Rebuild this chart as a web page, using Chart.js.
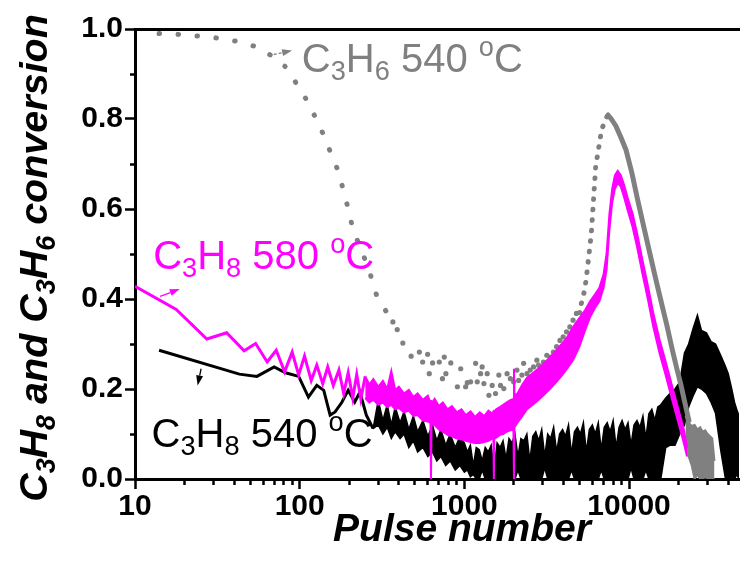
<!DOCTYPE html>
<html>
<head>
<meta charset="utf-8">
<script src="https://cdn.jsdelivr.net/npm/chart.js@4.4.1/dist/chart.umd.min.js"></script>
<style>
  html, body { margin: 0; padding: 0; background: #fff; }
  #wrap { width: 743px; height: 565px; }
</style>
</head>
<body>
<div id="wrap"><canvas id="chart" width="743" height="565"></canvas></div>
<script>
// axis ticks
const xMajorTicks = [10, 100, 1000, 10000];
const yMajorTicks = [0, 0.2, 0.4, 0.6, 0.8, 1.0];
const yTickLabels = ["0.0", "0.2", "0.4", "0.6", "0.8", "1.0"];
const X_MIN = 10;
const X_MAX = 46500;

// C3H8 580 oC : first pulses, then the noisy band (upper / lower edge)
const m580HeadX = [10, 17.8, 27.3, 36, 46, 54, 63.5, 72, 81, 90, 98.6, 107, 117.5, 127, 138, 148, 160, 173, 185, 197, 210, 222, 235, 250];
const m580HeadY = [0.428, 0.377, 0.311, 0.325, 0.285, 0.301, 0.26, 0.286, 0.238, 0.282, 0.231, 0.273, 0.219, 0.253, 0.212, 0.249, 0.208, 0.242, 0.19, 0.236, 0.18, 0.232, 0.178, 0.228];
const m580BandX = [250, 265, 280, 300, 320, 340, 360, 380, 400, 430,
  460, 490, 520, 560, 600, 622, 627, 632, 660, 700,
  740, 790, 840, 900, 960, 1020, 1090, 1160, 1240, 1320,
  1400, 1480, 1500, 1510, 1520, 1560, 1640, 1720, 1800, 1900,
  1985, 2000, 2015, 2100, 2250, 2400, 2600, 2800, 3000, 3300,
  3600, 3900, 4200, 4580, 5000, 5400, 5800, 6200, 6600, 7000,
  7300, 7600, 7900, 8200, 8530, 8900, 9300, 9800, 10500, 11200,
  12000, 13000, 14000, 15300, 16700, 18300, 20100, 21500, 22500];
const m580Upper = [0.228, 0.21, 0.222, 0.205, 0.218, 0.2, 0.24, 0.198, 0.205, 0.19,
  0.198, 0.182, 0.19, 0.176, 0.185, 0.17, 0.175, 0.168, 0.178, 0.162,
  0.17, 0.155, 0.162, 0.148, 0.155, 0.142, 0.15, 0.138, 0.148, 0.14,
  0.152, 0.145, 0.15, 0.148, 0.15, 0.155, 0.16, 0.165, 0.17, 0.175,
  0.178, 0.245, 0.185, 0.19, 0.21, 0.225, 0.235, 0.245, 0.255, 0.27,
  0.285, 0.3, 0.315, 0.338, 0.358, 0.375, 0.395, 0.41, 0.425, 0.455,
  0.5, 0.59, 0.645, 0.675, 0.685, 0.675, 0.655, 0.625, 0.59, 0.545,
  0.49, 0.43, 0.37, 0.31, 0.26, 0.205, 0.15, 0.11, 0.07];
const m580Lower = [0.18, 0.17, 0.176, 0.165, 0.17, 0.16, 0.165, 0.155, 0.158, 0.148,
  0.152, 0.14, 0.142, 0.13, 0.128, 0.125, 0.0, 0.122, 0.12, 0.11,
  0.105, 0.098, 0.095, 0.09, 0.088, 0.085, 0.082, 0.08, 0.08, 0.082,
  0.085, 0.09, 0.09, 0.0, 0.09, 0.092, 0.098, 0.1, 0.105, 0.108,
  0.11, 0.0, 0.115, 0.125, 0.14, 0.155, 0.165, 0.175, 0.185, 0.2,
  0.215, 0.23, 0.245, 0.265, 0.295, 0.33, 0.36, 0.38, 0.395, 0.425,
  0.465, 0.555, 0.615, 0.645, 0.658, 0.65, 0.628, 0.598, 0.56, 0.515,
  0.46, 0.4, 0.34, 0.28, 0.23, 0.175, 0.12, 0.08, 0.05];

// C3H6 540 oC : early decay, scattered minimum, conversion peak, tail
const c3h6EarlyX = [14, 18.4, 24.3, 31.6, 41, 54, 68, 82, 95.5, 110.7,
  124, 140, 154.6, 172, 184, 197, 211, 237, 267, 292, 340];
const c3h6EarlyY = [0.99, 0.988, 0.984, 0.98, 0.973, 0.961, 0.94, 0.916, 0.879, 0.841,
  0.805, 0.764, 0.724, 0.683, 0.642, 0.601, 0.553, 0.509, 0.458, 0.41, 0.368];
const c3h6MidX = [368, 391, 423, 475, 533, 558, 598, 612, 641, 704,
  736, 755, 772, 827, 907, 950, 1018, 1042, 1091, 1170,
  1197, 1254, 1282, 1314, 1376, 1409, 1475, 1545, 1619, 1657,
  1735, 1816, 1902, 1991, 2085, 2134, 2234, 2290, 2400, 2510,
  2630, 2755, 2820, 3020, 3165, 3310, 3470, 3630, 3805, 3980,
  4170, 4370, 4570, 4790, 5010];
const c3h6MidY = [0.349, 0.332, 0.302, 0.273, 0.282, 0.26, 0.277, 0.234, 0.258, 0.26,
  0.223, 0.271, 0.234, 0.258, 0.205, 0.245, 0.205, 0.214, 0.216, 0.257,
  0.216, 0.234, 0.249, 0.212, 0.234, 0.186, 0.208, 0.19, 0.231, 0.208,
  0.201, 0.234, 0.223, 0.216, 0.242, 0.219, 0.231, 0.257, 0.234, 0.242,
  0.249, 0.264, 0.253, 0.26, 0.275, 0.271, 0.282, 0.294, 0.308, 0.316,
  0.327, 0.338, 0.353, 0.368, 0.37];
const c3h6PeakX = [5130, 5375, 5510, 5900, 6270, 6800, 7200, 7450, 7800, 8300,
  8900, 9590, 10400, 11280, 12200, 13240, 14400, 15590, 17000, 18330,
  19500, 20560, 21800, 23080];
const c3h6PeakY = [0.39, 0.42, 0.449, 0.546, 0.694, 0.775, 0.8, 0.809, 0.8, 0.785,
  0.76, 0.731, 0.68, 0.62, 0.565, 0.508, 0.45, 0.397, 0.34, 0.286,
  0.245, 0.212, 0.17, 0.13];
const c3h6TailX = [22000, 23000, 24000, 25000, 26000, 27000, 28000, 29000, 30000, 31000, 32000, 33000];
const c3h6TailUpper = [0.14, 0.125, 0.118, 0.12, 0.11, 0.115, 0.105, 0.108, 0.1, 0.095, 0.09, 0.04];
const c3h6TailLower = [0.09, 0.05, 0.03, 0.0, 0.01, 0.0, 0.0, 0.005, 0.0, 0.0, 0.0, 0.0];

// C3H8 540 oC
const b540HeadX = [14, 43, 55, 70, 82, 98.6, 113, 127, 140, 153, 164, 180, 197, 216, 232, 254, 279];
const b540HeadY = [0.286, 0.233, 0.228, 0.249, 0.236, 0.228, 0.182, 0.208, 0.197, 0.142, 0.149, 0.17, 0.197, 0.171, 0.193, 0.142, 0.112];
const b540BandX = [279, 300, 320, 340, 360, 380, 407, 430, 460, 490,
  520, 560, 600, 640, 680, 720, 770, 820, 880, 940,
  1000, 1043, 1087, 1133, 1181, 1231, 1283, 1338, 1395, 1454,
  1516, 1580, 1647, 1717, 1790, 1866, 1945, 2028, 2114, 2204,
  2297, 2395, 2497, 2603, 2713, 2829, 2949, 3074, 3205, 3341,
  3483, 3631, 3785, 3946, 4113, 4288, 4470, 4660, 4858, 5065,
  5280, 5504, 5738, 5982, 6236, 6501, 6777, 7065, 7365, 7678,
  8004, 8344, 8699, 9069, 9454, 9856, 10275, 10711, 11166, 11641,
  12135, 12651, 13189, 13749, 14333, 14943, 15578, 16700, 17700, 19000,
  20300, 21700, 23000, 24500, 26000, 27500, 29500, 31500, 33500, 36000,
  38500, 40000, 42000, 43700, 45000, 46500];
const b540Upper = [0.112, 0.175, 0.13, 0.165, 0.12, 0.16, 0.125, 0.15, 0.11, 0.14,
  0.105, 0.13, 0.095, 0.12, 0.085, 0.11, 0.075, 0.1, 0.07, 0.095,
  0.08, 0.06, 0.075, 0.03, 0.07, 0.065, 0.04, 0.07, 0.06, 0.075,
  0.02, 0.08, 0.07, 0.085, 0.045, 0.09, 0.08, 0.1, 0.05, 0.09,
  0.085, 0.1, 0.04, 0.095, 0.105, 0.085, 0.11, 0.05, 0.1, 0.09,
  0.115, 0.06, 0.1, 0.11, 0.095, 0.12, 0.055, 0.105, 0.115, 0.1,
  0.125, 0.06, 0.11, 0.12, 0.1, 0.125, 0.065, 0.115, 0.125, 0.105,
  0.13, 0.07, 0.115, 0.13, 0.11, 0.125, 0.075, 0.12, 0.13, 0.115,
  0.14, 0.09, 0.145, 0.155, 0.13, 0.16, 0.165, 0.18, 0.19, 0.2,
  0.215, 0.28, 0.3, 0.335, 0.364, 0.33, 0.325, 0.305, 0.3, 0.275,
  0.25, 0.234, 0.2, 0.17, 0.155, 0.14];
const b540Lower = [0.112, 0.12, 0.1, 0.115, 0.09, 0.105, 0.09, 0.1, 0.07, 0.085,
  0.06, 0.07, 0.05, 0.06, 0.04, 0.05, 0.03, 0.04, 0.02, 0.03,
  0.015, 0.02, 0.005, 0.01, 0.0, 0.0, 0.02, 0.0, 0.0, 0.0,
  0.0, 0.0, 0.0, 0.0, 0.0, 0.0, 0.0, 0.0, 0.02, 0.0,
  0.0, 0.0, 0.0, 0.0, 0.0, 0.0, 0.0, 0.025, 0.0, 0.0,
  0.0, 0.0, 0.0, 0.0, 0.0, 0.0, 0.02, 0.0, 0.0, 0.0,
  0.0, 0.0, 0.0, 0.0, 0.0, 0.0, 0.02, 0.0, 0.0, 0.0,
  0.0, 0.0, 0.0, 0.0, 0.0, 0.0, 0.025, 0.0, 0.0, 0.0,
  0.0, 0.02, 0.0, 0.0, 0.0, 0.0, 0.0, 0.07, 0.075, 0.075,
  0.1, 0.12, 0.16, 0.185, 0.205, 0.2, 0.19, 0.17, 0.146, 0.064,
  0.0, 0.0, 0.005, 0.0, 0.01, 0.0];

const MAGENTA = "#ff00ff";
const GRAY = "#808080";
const BLACK = "#000000";
const FONT = '"Liberation Sans", Arial, Helvetica, sans-serif';

// curve labels (left end of text / baseline in data units)
const notes = [
  { parts: [["C"], ["3", "sub"], ["H"], ["6", "sub"], [" 540 "], ["o", "sup"], ["C"]], x: 103, y: 0.905, color: GRAY },
  { parts: [["C"], ["3", "sub"], ["H"], ["8", "sub"], [" 580 "], ["o", "sup"], ["C"]], x: 12.9, y: 0.466, color: MAGENTA },
  { parts: [["C"], ["3", "sub"], ["H"], ["8", "sub"], [" 540 "], ["o", "sup"], ["C"]], x: 12.6, y: 0.071, color: BLACK },
];
const arrows = [
  { from: [65, 0.941], to: [90, 0.952], color: GRAY, dash: [3, 2] },
  { from: [14.2, 0.406], to: [18.7, 0.422], color: MAGENTA, dash: [] },
  { from: [25.2, 0.245], to: [24.0, 0.208], color: BLACK, dash: [] },
];

const xy = (xs, ys) => xs.map((x, i) => ({ x: x, y: ys[i] }));

// draw text with sub/superscripts, returns the width
const drawRich = (ctx, parts, x, y, size, style, color, measureOnly) => {
  let cx = x;
  ctx.fillStyle = color;
  ctx.textAlign = "left";
  ctx.textBaseline = "alphabetic";
  parts.forEach(([txt, kind]) => {
    const s = kind ? size * 0.68 : size;
    const dy = kind === "sub" ? size * 0.2 : kind === "sup" ? -size * 0.4 : 0;
    ctx.font = style + " " + s + "px " + FONT;
    if (!measureOnly) ctx.fillText(txt, cx, y + dy);
    cx += ctx.measureText(txt).width;
  });
  return cx - x;
};

const drawArrow = (ctx, x0, y0, x1, y1, color, dash) => {
  const head = 10;
  const ang = Math.atan2(y1 - y0, x1 - x0);
  const bx = x1 - head * Math.cos(ang);
  const by = y1 - head * Math.sin(ang);
  ctx.save();
  ctx.strokeStyle = color;
  ctx.fillStyle = color;
  ctx.lineWidth = 1.3;
  ctx.setLineDash(dash);
  ctx.beginPath();
  ctx.moveTo(x0, y0);
  ctx.lineTo(bx, by);
  ctx.stroke();
  ctx.setLineDash([]);
  ctx.beginPath();
  ctx.moveTo(x1, y1);
  ctx.lineTo(bx + 3.5 * Math.sin(ang), by - 3.5 * Math.cos(ang));
  ctx.lineTo(bx - 3.5 * Math.sin(ang), by + 3.5 * Math.cos(ang));
  ctx.closePath();
  ctx.fill();
  ctx.restore();
};

const labelsPlugin = {
  id: "labels",
  afterDraw(chart) {
    const ctx = chart.ctx;
    const xs = chart.scales.x;
    const ys = chart.scales.y;
    ctx.save();
    notes.forEach((n) => {
      drawRich(ctx, n.parts, xs.getPixelForValue(n.x), ys.getPixelForValue(n.y), 40, "normal", n.color);
    });
    arrows.forEach((a) => {
      drawArrow(ctx,
        xs.getPixelForValue(a.from[0]), ys.getPixelForValue(a.from[1]),
        xs.getPixelForValue(a.to[0]), ys.getPixelForValue(a.to[1]),
        a.color, a.dash);
    });

    // y axis title
    const yTitle = [["C"], ["3", "sub"], ["H"], ["8", "sub"], [" and "], ["C"], ["3", "sub"], ["H"], ["6", "sub"], [" conversion"]];
    const w = drawRich(ctx, yTitle, 0, 0, 39.5, "italic bold", BLACK, true);
    ctx.translate(47, 258);
    ctx.rotate(-Math.PI / 2);
    drawRich(ctx, yTitle, -w / 2, 0, 39.5, "italic bold", BLACK);
    ctx.restore();

    // x axis title
    ctx.save();
    ctx.font = "italic bold 39px " + FONT;
    ctx.fillStyle = BLACK;
    ctx.textAlign = "center";
    ctx.textBaseline = "alphabetic";
    ctx.fillText("Pulse number", 462, 541);
    ctx.restore();
  },
};

const xMinorTicks = [];
for (let d = 10; d <= 10000; d *= 10) {
  for (let k = 2; k <= 9; k++) {
    if (d * k < X_MAX) xMinorTicks.push(d * k);
  }
}
const yMinorTicks = [0.1, 0.3, 0.5, 0.7, 0.9];

const tickFont = { family: FONT, size: 30, weight: "bold" };

const config = {
  type: "line",
  data: {
    datasets: [
      { label: "C3H8 580", data: xy(m580HeadX, m580HeadY), borderColor: MAGENTA, borderWidth: 3, fill: false, order: 0 },
      { label: "C3H8 580 upper", data: xy(m580BandX, m580Upper), borderColor: MAGENTA, backgroundColor: MAGENTA, borderWidth: 2, fill: "+1", order: 0 },
      { label: "C3H8 580 lower", data: xy(m580BandX, m580Lower), borderColor: MAGENTA, borderWidth: 2, fill: false, order: 0 },
      {
        label: "C3H6 540 early", data: xy(c3h6EarlyX, c3h6EarlyY), borderColor: GRAY, borderWidth: 5,
        borderCapStyle: "round", borderDash: [0.5, 18.5], fill: false, order: 1,
      },
      {
        label: "C3H6 540 mid", data: xy(c3h6MidX, c3h6MidY), showLine: false, fill: false, order: 1,
        pointRadius: 2.6, pointBorderWidth: 0, pointBackgroundColor: GRAY,
      },
      {
        label: "C3H6 540 peak", data: xy(c3h6PeakX, c3h6PeakY), borderColor: GRAY, borderWidth: 5,
        borderCapStyle: "round", borderJoinStyle: "round", fill: false, order: 1,
        segment: { borderDash: (ctx) => (ctx.p0.parsed.x >= 7450 ? [] : [0.5, 10]) },
      },
      { label: "C3H6 540 upper", data: xy(c3h6TailX, c3h6TailUpper), borderColor: GRAY, backgroundColor: GRAY, borderWidth: 2, fill: "+1", order: 1 },
      { label: "C3H6 540 lower", data: xy(c3h6TailX, c3h6TailLower), borderColor: GRAY, borderWidth: 2, fill: false, order: 1 },
      { label: "C3H8 540", data: xy(b540HeadX, b540HeadY), borderColor: BLACK, borderWidth: 3, fill: false, order: 2 },
      { label: "C3H8 540 upper", data: xy(b540BandX, b540Upper), borderColor: BLACK, backgroundColor: BLACK, borderWidth: 1.5, fill: "+1", order: 2 },
      { label: "C3H8 540 lower", data: xy(b540BandX, b540Lower), borderColor: BLACK, borderWidth: 1.5, fill: false, order: 2 },
    ],
  },
  options: {
    responsive: false,
    animation: false,
    layout: { padding: { top: 29, left: 0, right: 0, bottom: 0 } },
    elements: { point: { radius: 0 }, line: { tension: 0 } },
    plugins: { legend: { display: false }, tooltip: { enabled: false } },
    scales: {
      x: {
        type: "logarithmic", position: "bottom", min: X_MIN, max: X_MAX, weight: 1,
        afterBuildTicks: (s) => { s.ticks = xMajorTicks.map((v) => ({ value: v })); },
        afterFit: (s) => { s.height = 86; },
        grid: { drawOnChartArea: false, tickLength: 10, tickWidth: 2.5, tickColor: BLACK },
        border: { color: BLACK, width: 3 },
        ticks: { color: BLACK, font: tickFont, padding: 0, maxRotation: 0, autoSkip: false, callback: (v) => String(v) },
      },
      xMinor: {
        type: "logarithmic", position: "bottom", min: X_MIN, max: X_MAX, weight: 0,
        afterBuildTicks: (s) => { s.ticks = xMinorTicks.map((v) => ({ value: v })); },
        afterFit: (s) => { s.height = 0; },
        grid: { drawOnChartArea: false, tickLength: 6, tickWidth: 2.5, tickColor: BLACK },
        border: { display: false },
        ticks: { autoSkip: false, maxRotation: 0, callback: () => "" },
      },
      xTop: {
        type: "logarithmic", position: "top", min: X_MIN, max: X_MAX,
        afterFit: (s) => { s.height = 0; },
        grid: { drawOnChartArea: false, drawTicks: false },
        border: { color: BLACK, width: 3 },
        ticks: { display: false },
      },
      y: {
        position: "left", min: 0, max: 1, weight: 1,
        afterBuildTicks: (s) => { s.ticks = yMajorTicks.map((v) => ({ value: v })); },
        afterFit: (s) => { s.width = 135; },
        grid: { drawOnChartArea: false, tickLength: 10, tickWidth: 2.5, tickColor: BLACK },
        border: { color: BLACK, width: 3 },
        ticks: { color: BLACK, font: tickFont, padding: 2, autoSkip: false, callback: (v, i) => yTickLabels[i] },
      },
      yMinor: {
        position: "left", min: 0, max: 1, weight: 0,
        afterBuildTicks: (s) => { s.ticks = yMinorTicks.map((v) => ({ value: v })); },
        afterFit: (s) => { s.width = 0; },
        grid: { drawOnChartArea: false, tickLength: 5, tickWidth: 2.5, tickColor: BLACK },
        border: { display: false },
        ticks: { autoSkip: false, callback: () => "" },
      },
    },
  },
  plugins: [labelsPlugin],
};

const myChart = new Chart(document.getElementById("chart"), config);
</script>
</body>
</html>
